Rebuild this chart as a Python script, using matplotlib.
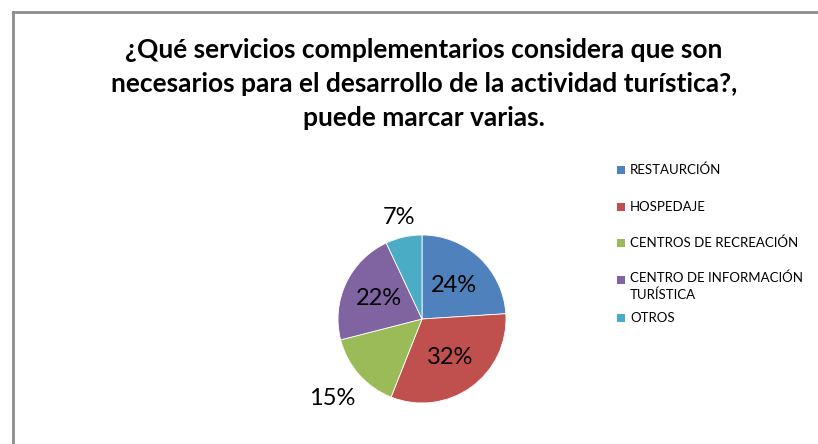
import numpy as np
import matplotlib
matplotlib.use("Agg")
import matplotlib.pyplot as plt
from matplotlib.lines import Line2D
from matplotlib.patches import Rectangle

plt.rcParams['font.family'] = ['Lato', 'DejaVu Sans']

title = ("¿Qué servicios complementarios considera que son\n"
         "necesarios para el desarrollo de la actividad turística?,\n"
         "puede marcar varias.")
categories = ["RESTAURCIÓN", "HOSPEDAJE", "CENTROS DE RECREACIÓN",
              "CENTRO DE INFORMACIÓN\nTURÍSTICA", "OTROS"]
values = [24, 32, 15, 22, 7]
colors = ["#4F81BD", "#C0504D", "#9BBB59", "#8064A2", "#4BACC6"]

# label distance (in radii) for each slice, as placed in the picture
label_dist = [0.55, 0.57, 1.43, 0.57, 1.24]

W, H = 818, 444
fig = plt.figure(figsize=(W / 100, H / 100), dpi=100)

# chart frame (only top and left edges are visible)
frame_kw = dict(color="#8C8C8C", lw=2, transform=fig.transFigure)
fig.add_artist(Line2D([12.5 / W, 1.0], [1 - 12 / H, 1 - 12 / H], **frame_kw))
fig.add_artist(Line2D([12.5 / W, 12.5 / W], [0, 1 - 12 / H], **frame_kw))

fig.text(424 / W, 1 - 84 / H, title, ha="center", va="center",
         fontsize=19, fontweight="bold", linespacing=1.48)

# pie
cx, cy, r = 422, 319, 84
ax = fig.add_axes([(cx - r) / W, (H - cy - r) / H, 2 * r / W, 2 * r / H])
wedges, _ = ax.pie(values, colors=colors, startangle=90, counterclock=False,
                   wedgeprops=dict(edgecolor="white", linewidth=0.6))
ax.set_xlim(-1, 1)
ax.set_ylim(-1, 1)
ax.set_aspect("equal")
ax.axis("off")

total = sum(values)
start = 90.0
for v, d in zip(values, label_dist):
    sweep = v / total * 360
    mid = np.deg2rad(start - sweep / 2)
    start -= sweep
    ax.text(d * np.cos(mid), d * np.sin(mid), f"{round(v / total * 100)}%",
            ha="center", va="center", fontsize=17, clip_on=False)

# legend
legend_y = [170, 207, 243, 280, 318]
for lab, col, y in zip(categories, colors, legend_y):
    fig.add_artist(Rectangle((617 / W, 1 - (y + 4) / H), 8 / W, 8 / H,
                             facecolor=col, edgecolor="none",
                             transform=fig.transFigure))
    multi = "\n" in lab
    fig.text(630 / W, 1 - (y - 8 if multi else y) / H, lab, ha="left",
             va="top" if multi else "center", fontsize=9.5, linespacing=1.35)

fig.savefig("out.png", dpi=100)
